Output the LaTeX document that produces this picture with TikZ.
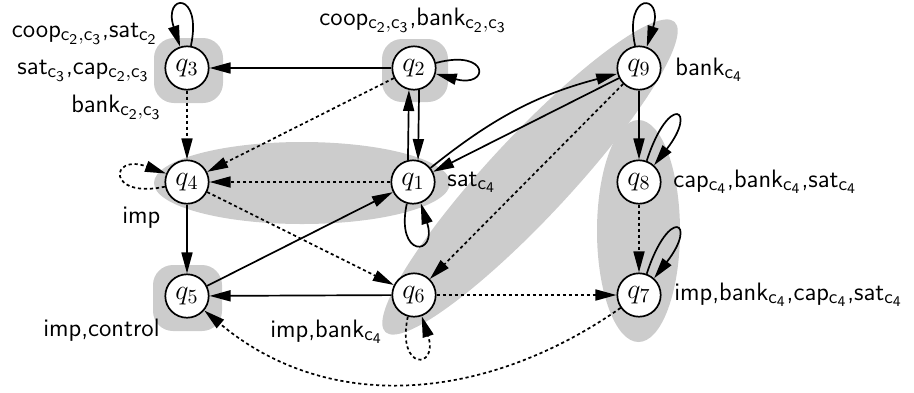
\RequirePackage{fix-cm}
\documentclass[tikz,border=0pt]{standalone}
\usepackage{fontspec}
\usetikzlibrary{arrows.meta}
\DeclareMathSizes{12.6}{12.6}{9.6}{7.4}
\DeclareMathSizes{14}{14}{10}{7.5}
\begin{document}
\begin{tikzpicture}[x=0.5pt,y=0.5pt,
  font=\fontsize{12.6}{15}\selectfont\sffamily,
  st/.style={circle,draw,line width=0.85pt,minimum size=21.7pt,inner sep=0pt,fill=white,font=\fontsize{14}{16}\selectfont},
  arr/.style={line width=0.85pt,-{Triangle[length=10.5pt,width=5.5pt]}},
  dot/.style={arr,dash pattern=on 1.6pt off 1.4pt},
  lab/.style={inner sep=0pt},
  shadefill/.style={fill=black!20,draw=none}]
\useasboundingbox (0,0) rectangle (914,-392);

% shaded groups
\fill[shadefill, rounded corners=10pt] (154,-38) rectangle (223,-103);
\fill[shadefill, rounded corners=10pt] (382,-39) rectangle (448,-102);
\fill[shadefill, rounded corners=10pt] (153,-265) rectangle (222,-331);
\fill[shadefill] (302,-183) ellipse [x radius=148, y radius=41];
\fill[shadefill, shift={(530,-177)}, rotate=47] (0,0) ellipse [x radius=212, y radius=41];
\fill[shadefill] (638.5,-231) ellipse [x radius=41.5, y radius=111];

% states
\node[st] (q3) at (187,-68) {$q_3$};
\node[st] (q2) at (414,-68) {$q_2$};
\node[st] (q9) at (639,-68) {$q_9$};
\node[st] (q4) at (187,-182) {$q_4$};
\node[st] (q1) at (413,-182) {$q_1$};
\node[st] (q8) at (639,-182) {$q_8$};
\node[st] (q5) at (187,-296) {$q_5$};
\node[st] (q6) at (414,-295) {$q_6$};
\node[st] (q7) at (639,-295) {$q_7$};

% transitions
\draw[arr] (q2) -- (q3);
\draw[dot] (q2) -- (q4);
\draw[dot] (q3) -- (q4);
\draw[dot] (q1) -- (q4);
\draw[dot] (q4) -- (q6);
\draw[arr] (q4) -- (q5);
\draw[arr] (q5) -- (q1);
\draw[arr] (q6) -- (q5);
\draw[dot] (q6) -- (q7);
\draw[dot] (q8) -- (q7);
\draw[arr] (q9) -- (q8);
\draw[dot] (q9) -- (q6);
\draw[arr] (q9) -- (q1);
\draw[arr] (q1) to[bend left=12] (q9);
\draw[arr] (q1.103) -- (q2.257);
\draw[arr] (q2.283) -- (q1.77);
\draw[dot] (q7) to[out=215,in=-40] (q5);

% loops
\draw[arr] (q3.80) .. controls +(78:28pt) and +(108:28pt) .. (q3.108);
\draw[arr] (q9.100) .. controls +(102:28pt) and +(72:28pt) .. (q9.70);
\draw[arr] (q2.13) .. controls +(15:28pt) and +(-15:28pt) .. (q2.-15);
\draw[arr] (q1.-106) .. controls +(-102:28pt) and +(-72:28pt) .. (q1.-70);
\draw[dot] (q6.-106) .. controls +(-102:28pt) and +(-72:28pt) .. (q6.-70);
\draw[dot] (q4.192) .. controls +(192:30pt) and +(160:30pt) .. (q4.158);
\draw[arr] (q8.70) .. controls +(72:36pt) and +(52:36pt) .. (q8.48);
\draw[arr] (q7.70) .. controls +(72:36pt) and +(52:36pt) .. (q7.48);

% labels
\node[lab, anchor=base east] (l3a) at (158,-37) {coop$_{\mathsf{c_2,c_3}}$,sat$_{\mathsf{c_2}}$};
\node[lab, anchor=base east] (l3b) at (150,-74) {sat$_{\mathsf{c_3}}$,cap$_{\mathsf{c_2,c_3}}$};
\node[lab, anchor=base east] (l3c) at (162,-112) {bank$_{\mathsf{c_2,c_3}}$};
\node[lab, anchor=base] (l2) at (413,-25) {coop$_{\mathsf{c_2,c_3}}$,bank$_{\mathsf{c_2,c_3}}$};
\node[lab, anchor=base west] (l9) at (675,-75) {bank$_{\mathsf{c_4}}$};
\node[lab, anchor=base west] (l1) at (447,-186) {sat$_{\mathsf{c_4}}$};
\node[lab, anchor=base west] (l4) at (122,-223) {imp};
\node[lab, anchor=base west] (l8) at (673,-187) {cap$_{\mathsf{c_4}}$,bank$_{\mathsf{c_4}}$,sat$_{\mathsf{c_4}}$};
\node[lab, anchor=base west] (l7) at (674,-300) {imp,bank$_{\mathsf{c_4}}$,cap$_{\mathsf{c_4}}$,sat$_{\mathsf{c_4}}$};
\node[lab, anchor=base east] (l5) at (160,-336) {imp,control};
\node[lab, anchor=base west] (l6) at (270,-337) {imp,bank$_{\mathsf{c_4}}$};
\end{tikzpicture}
\end{document}
